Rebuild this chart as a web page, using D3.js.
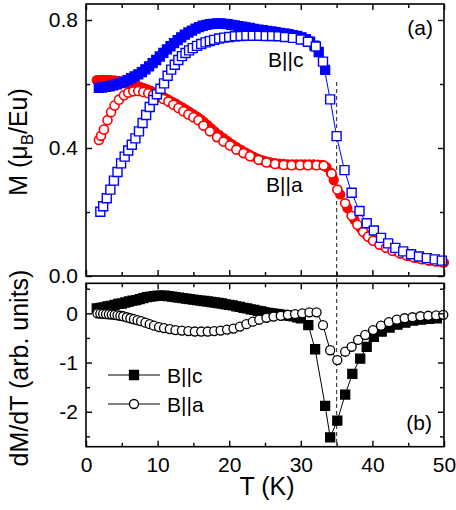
<!DOCTYPE html>
<html>
<head>
<meta charset="utf-8">
<script src="https://cdn.jsdelivr.net/npm/d3@7"></script>
<style>
  html, body { margin: 0; padding: 0; background: #fff; }
  svg { display: block; }
  text { font-family: "Liberation Sans", Arial, sans-serif; fill: #000; }
</style>
</head>
<body>
<svg id="chart" width="456" height="510"></svg>
<script>
// ---- Magnetization, B || c (field-cooled, filled squares) ----
const fcC_T = [1.8, 2.3, 2.8, 3.3, 3.8, 4.3, 4.8, 5.3, 5.8, 6.3, 6.8, 7.3, 7.8, 8.3, 8.8, 9.3, 9.8, 10.3, 10.8, 11.3,
  11.8, 12.3, 12.8, 13.3, 13.8, 14.3, 14.8, 15.3, 15.8, 16.3, 16.8, 17.3, 17.8, 18.3, 18.8, 19.3, 19.8, 20.3, 20.8,
  21.3, 21.8, 22.3, 22.9, 23.5, 24.1, 24.7, 25.3, 25.9, 26.5, 27.1, 27.7, 28.3, 28.9, 29.5, 30.1, 30.7, 31.3, 31.9,
  32.5, 33.4];
const fcC_M = [0.588, 0.589, 0.591, 0.593, 0.596, 0.599, 0.603, 0.607, 0.612, 0.618, 0.624, 0.630, 0.637, 0.646,
  0.655, 0.665, 0.675, 0.686, 0.697, 0.708, 0.718, 0.728, 0.737, 0.746, 0.754, 0.761, 0.767, 0.773, 0.778, 0.782,
  0.785, 0.787, 0.788, 0.789, 0.789, 0.788, 0.787, 0.785, 0.783, 0.781, 0.779, 0.777, 0.775, 0.772, 0.770, 0.768,
  0.766, 0.764, 0.762, 0.760, 0.758, 0.756, 0.753, 0.750, 0.746, 0.740, 0.732, 0.720, 0.700, 0.644];

// ---- Magnetization, B || c (zero-field-cooled, open squares) ----
const zfcC_T = [2.0, 2.4, 2.9, 3.4, 3.9, 4.4, 4.9, 5.4, 5.9, 6.4, 6.9, 7.4, 7.9, 8.4, 8.9, 9.4, 9.9, 10.4, 10.9, 11.4,
  11.9, 12.4, 12.9, 13.4, 13.9, 14.4, 14.9, 15.5, 16.1, 16.7, 17.3, 17.9, 18.6, 19.3, 20.0, 20.8, 21.6, 22.4, 23.3,
  24.2, 25.1, 26.0, 26.9, 27.8, 28.9, 30.0, 31.0, 32.1, 33.1, 34.1, 35.0, 36.1, 37.1, 38.2, 39.2, 40.2, 41.2, 42.2,
  43.2, 44.3, 45.4, 46.5, 47.6, 48.7, 49.7];
const zfcC_M = [0.201, 0.218, 0.243, 0.270, 0.298, 0.325, 0.352, 0.373, 0.392, 0.410, 0.430, 0.452, 0.478, 0.503,
  0.528, 0.550, 0.568, 0.585, 0.602, 0.626, 0.645, 0.660, 0.675, 0.687, 0.697, 0.705, 0.712, 0.719, 0.725, 0.730,
  0.734, 0.738, 0.742, 0.745, 0.747, 0.749, 0.750, 0.751, 0.751, 0.751, 0.750, 0.750, 0.749, 0.747, 0.744, 0.739,
  0.732, 0.717, 0.670, 0.552, 0.437, 0.331, 0.260, 0.203, 0.165, 0.142, 0.119, 0.102, 0.088, 0.077, 0.068, 0.061,
  0.056, 0.052, 0.048];

// ---- Magnetization, B || a (field-cooled, filled circles) ----
const fcA_T = [1.5, 2.0, 2.5, 3.0, 3.5, 4.0, 4.5, 5.0, 5.5, 6.0, 6.5, 7.0, 7.5, 8.0, 8.5, 9.0, 9.5, 10.0, 10.5, 11.0,
  11.5, 12.0, 12.5, 13.0, 13.5, 14.0, 14.5, 15.0, 15.5, 16.0, 16.5, 17.0, 17.5, 18.0, 18.6, 19.2, 19.8, 20.4, 21.0,
  21.6, 22.2, 22.8, 23.4, 24.0, 24.6, 25.2, 25.8, 26.4, 27.0, 27.6, 28.2, 28.8, 29.4, 30.0, 30.6, 31.2, 31.8, 32.4,
  33.0, 33.6, 34.2, 34.6, 35.5, 36.5, 37.5, 38.4, 39.2, 40.0, 41.0, 42.0, 43.0, 44.0, 45.0, 46.0, 47.0, 48.0, 49.0,
  50.0];
const fcA_M = [0.612, 0.613, 0.613, 0.613, 0.612, 0.611, 0.609, 0.607, 0.604, 0.601, 0.598, 0.595, 0.592, 0.588,
  0.584, 0.579, 0.574, 0.569, 0.563, 0.557, 0.551, 0.545, 0.539, 0.532, 0.526, 0.519, 0.512, 0.505, 0.498, 0.490,
  0.481, 0.471, 0.461, 0.451, 0.441, 0.431, 0.421, 0.412, 0.403, 0.395, 0.387, 0.380, 0.373, 0.367, 0.362, 0.358,
  0.355, 0.353, 0.351, 0.350, 0.349, 0.349, 0.349, 0.349, 0.349, 0.349, 0.349, 0.348, 0.347, 0.340, 0.322, 0.300,
  0.255, 0.212, 0.175, 0.148, 0.128, 0.113, 0.099, 0.088, 0.078, 0.070, 0.063, 0.057, 0.052, 0.048, 0.045, 0.042];

// ---- Magnetization, B || a (zero-field-cooled, open circles) ----
const zfcA_T = [1.8, 2.1, 2.5, 3.0, 3.5, 4.0, 4.6, 5.3, 5.9, 6.6, 7.3, 8.0, 8.7, 9.4, 10.1, 10.8, 11.5, 12.2, 12.9,
  13.6, 14.3, 15.0, 15.7, 16.4, 17.3, 18.3, 19.2, 20.1, 21.0, 22.0, 22.9, 24.1, 25.2, 26.4, 27.6, 28.7, 29.9, 31.0,
  32.2, 33.2, 34.3, 35.1, 36.2, 37.1, 37.9, 38.7, 39.4, 40.1, 41.0, 41.9, 42.8, 43.8, 44.8, 45.8, 46.8, 47.8, 48.8,
  49.8];
const zfcA_M = [0.425, 0.438, 0.458, 0.487, 0.512, 0.533, 0.551, 0.565, 0.573, 0.577, 0.578, 0.575, 0.571, 0.566,
  0.560, 0.553, 0.545, 0.535, 0.525, 0.515, 0.505, 0.496, 0.487, 0.470, 0.452, 0.434, 0.420, 0.408, 0.395, 0.384,
  0.374, 0.363, 0.355, 0.350, 0.347, 0.346, 0.346, 0.346, 0.346, 0.345, 0.320, 0.270, 0.227, 0.188, 0.160, 0.138,
  0.123, 0.110, 0.098, 0.088, 0.079, 0.071, 0.064, 0.058, 0.053, 0.049, 0.046, 0.043];

// ---- dM/dT, B || c (filled squares) ----
const dC_T = [1.5, 2.0, 2.5, 3.0, 3.5, 4.0, 4.5, 5.0, 5.5, 6.0, 6.5, 7.0, 7.5, 8.0, 8.5, 9.0, 9.5, 10.0, 10.5, 11.0,
  11.5, 12.0, 12.5, 13.0, 13.5, 14.0, 14.5, 15.0, 15.5, 16.0, 16.5, 17.0, 17.5, 18.0, 18.5, 19.0, 19.5, 20.0, 20.5,
  21.0, 21.5, 22.0, 22.5, 23.0, 23.5, 24.0, 24.5, 25.0, 25.5, 26.0, 26.5, 27.0, 27.5, 28.0, 28.5, 29.0, 29.5, 30.0,
  31.05, 32.0, 33.4, 34.1, 35.1, 36.2, 37.2, 38.3, 39.2, 40.2, 41.3, 42.4, 43.5, 44.6, 45.7, 46.8, 47.9, 49.0];
const dC_V = [0.10, 0.11, 0.12, 0.14, 0.15, 0.17, 0.19, 0.20, 0.22, 0.24, 0.26, 0.27, 0.29, 0.31, 0.33, 0.34, 0.35,
  0.36, 0.36, 0.36, 0.35, 0.34, 0.33, 0.32, 0.31, 0.30, 0.29, 0.28, 0.27, 0.26, 0.25, 0.24, 0.23, 0.22, 0.21, 0.20,
  0.18, 0.17, 0.16, 0.14, 0.13, 0.11, 0.10, 0.08, 0.07, 0.05, 0.04, 0.02, 0.01, 0.00, -0.01, -0.02, -0.03, -0.04,
  -0.05, -0.06, -0.08, -0.10, -0.24, -0.73, -1.88, -2.52, -2.18, -1.65, -1.23, -0.92, -0.68, -0.48, -0.37, -0.29,
  -0.23, -0.19, -0.15, -0.13, -0.11, -0.10];

// ---- dM/dT, B || a (open circles) ----
const dA_T = [1.6, 2.0, 2.4, 2.8, 3.2, 3.6, 4.0, 4.4, 4.8, 5.2, 5.7, 6.2, 6.7, 7.2, 7.7, 8.3, 8.9, 9.5, 10.2, 10.9,
  11.7, 12.5, 13.4, 14.3, 15.2, 16.1, 17.0, 17.9, 18.8, 19.7, 20.6, 21.5, 22.4, 23.3, 24.2, 25.2, 26.2, 27.2, 28.2,
  29.2, 30.2, 31.2, 32.2, 33.1, 34.1, 35.1, 36.2, 37.1, 38.0, 39.0, 40.1, 41.2, 42.3, 43.4, 44.5, 45.6, 46.7, 47.8,
  48.9, 49.9];
const dA_V = [0.00, -0.005, -0.01, -0.015, -0.02, -0.025, -0.03, -0.04, -0.05, -0.06, -0.08, -0.10, -0.12, -0.14,
  -0.16, -0.19, -0.22, -0.25, -0.28, -0.30, -0.32, -0.34, -0.35, -0.36, -0.37, -0.37, -0.37, -0.36, -0.35, -0.33,
  -0.31, -0.27, -0.22, -0.17, -0.13, -0.09, -0.065, -0.05, -0.03, -0.015, 0.00, 0.02, 0.02, -0.24, -0.75, -0.95,
  -0.78, -0.68, -0.54, -0.44, -0.34, -0.25, -0.18, -0.13, -0.10, -0.08, -0.06, -0.05, -0.04, -0.03];

// ---- Axis ticks ----
const xMajor = [0, 10, 20, 30, 40, 50];
const xMinor = [5, 15, 25, 35, 45];
const topMajor = [0, 0.4, 0.8];
const topMinor = [0.2, 0.6];
const topLabels = ["0.0", "0.4", "0.8"];
const botMajor = [-2, -1, 0];
const botMinor = [-2.5, -1.5, -0.5, 0.5];
const botLabels = ["-2", "-1", "0"];
const T_TRANSITION = 35;

const zip = (ts, vs) => ts.map((t, i) => ({ t, v: vs[i] }));

const svg = d3.select("#chart");
svg.append("rect").attr("width", 456).attr("height", 510).attr("fill", "#fff");

const L = 86, R = 444;
const x = d3.scaleLinear().domain([0, 50]).range([L, R]);
const yTop = d3.scaleLinear().domain([0, 0.85]).range([276, 4]);
const yBot = d3.scaleLinear().domain([-2.71, 0.61]).range([446.7, 283.3]);

const MAJ = 6, MIN = 4;
const TICK_FONT = 21;

function drawAxes(y, major, minor, labels, showX) {
  const [y0, y1] = y.range(); // bottom, top
  const g = svg.append("g");
  const style = sel => {
    sel.select(".domain").remove();
    sel.selectAll("line").attr("stroke", "#000").attr("stroke-width", 1.4);
    sel.selectAll("text").attr("font-size", TICK_FONT).attr("font-family", "Liberation Sans, Arial, sans-serif");
  };
  // bottom edge
  g.append("g").attr("transform", `translate(0,${y0})`)
    .call(d3.axisBottom(x).tickValues(xMajor).tickSize(-MAJ).tickPadding(10)
      .tickFormat(showX ? d3.format("d") : () => "")).call(style);
  g.append("g").attr("transform", `translate(0,${y0})`)
    .call(d3.axisBottom(x).tickValues(xMinor).tickSize(-MIN).tickFormat(() => "")).call(style);
  // top edge
  g.append("g").attr("transform", `translate(0,${y1})`)
    .call(d3.axisTop(x).tickValues(xMajor).tickSize(-MAJ).tickFormat(() => "")).call(style);
  g.append("g").attr("transform", `translate(0,${y1})`)
    .call(d3.axisTop(x).tickValues(xMinor).tickSize(-MIN).tickFormat(() => "")).call(style);
  // left edge
  g.append("g").attr("transform", `translate(${L},0)`)
    .call(d3.axisLeft(y).tickValues(major).tickSize(-MAJ).tickPadding(8)
      .tickFormat((d, i) => labels[i])).call(style);
  g.append("g").attr("transform", `translate(${L},0)`)
    .call(d3.axisLeft(y).tickValues(minor).tickSize(-MIN).tickFormat(() => "")).call(style);
  // right edge
  g.append("g").attr("transform", `translate(${R},0)`)
    .call(d3.axisRight(y).tickValues(major).tickSize(-MAJ).tickFormat(() => "")).call(style);
  g.append("g").attr("transform", `translate(${R},0)`)
    .call(d3.axisRight(y).tickValues(minor).tickSize(-MIN).tickFormat(() => "")).call(style);
  // frame
  g.append("rect").attr("x", L).attr("y", y1).attr("width", R - L).attr("height", y0 - y1)
    .attr("fill", "none").attr("stroke", "#000").attr("stroke-width", 1.6);
}

const sqr = d3.symbol().type(d3.symbolSquare).size(81)();
const circ = d3.symbol().type(d3.symbolCircle).size(64)();

function series(y, data, opt) {
  const g = svg.append("g");
  const line = d3.line().x(d => x(d.t)).y(d => y(d.v));
  g.append("path").attr("d", line(data)).attr("fill", "none")
    .attr("stroke", opt.color).attr("stroke-width", 1);
  g.selectAll("path.m").data(data).join("path").attr("class", "m")
    .attr("d", opt.shape === "square" ? sqr : circ)
    .attr("transform", d => `translate(${x(d.t)},${y(d.v)})`)
    .attr("fill", opt.filled ? opt.color : "#fff")
    .attr("stroke", opt.color).attr("stroke-width", opt.sw || 1.3);
}

// ---- Panel (a): magnetization ----
svg.append("line")
  .attr("x1", x(T_TRANSITION)).attr("x2", x(T_TRANSITION))
  .attr("y1", 82).attr("y2", yBot.range()[0])
  .attr("stroke", "#444").attr("stroke-width", 1.2).attr("stroke-dasharray", "4,3");

series(yTop, zip(fcA_T, fcA_M), { shape: "circle", filled: true, color: "#ff0000" });
series(yTop, zip(fcC_T, fcC_M), { shape: "square", filled: true, color: "#0000ff" });
series(yTop, zip(zfcA_T, zfcA_M), { shape: "circle", filled: false, color: "#ff0000", sw: 1.6 });
series(yTop, zip(zfcC_T, zfcC_M), { shape: "square", filled: false, color: "#0000ff", sw: 1.4 });
drawAxes(yTop, topMajor, topMinor, topLabels, false);

svg.append("text").attr("x", 433).attr("y", 35).attr("text-anchor", "end").attr("font-size", 21).text("(a)");
svg.append("text").attr("x", 268).attr("y", 67).attr("font-size", 21).text("B||c");
svg.append("text").attr("x", 266).attr("y", 192).attr("font-size", 21).text("B||a");

// ---- Panel (b): derivative ----
series(yBot, zip(dC_T, dC_V), { shape: "square", filled: true, color: "#000" });
series(yBot, zip(dA_T, dA_V), { shape: "circle", filled: false, color: "#000" });
drawAxes(yBot, botMajor, botMinor, botLabels, true);

svg.append("text").attr("x", 432).attr("y", 430).attr("text-anchor", "end").attr("font-size", 21).text("(b)");

// legend
const legend = [
  { label: "B||c", shape: "square", filled: true, yy: 375 },
  { label: "B||a", shape: "circle", filled: false, yy: 404 }
];
const lg = svg.append("g");
legend.forEach(d => {
  lg.append("line").attr("x1", 108).attr("x2", 160).attr("y1", d.yy).attr("y2", d.yy)
    .attr("stroke", "#000").attr("stroke-width", 1);
  lg.append("path").attr("d", d.shape === "square" ? sqr : circ)
    .attr("transform", `translate(134,${d.yy})`)
    .attr("fill", d.filled ? "#000" : "#fff").attr("stroke", "#000").attr("stroke-width", 1.3);
  lg.append("text").attr("x", 167).attr("y", d.yy + 7.5).attr("font-size", 21).text(d.label);
});

// ---- Axis titles ----
svg.append("text").attr("x", (L + R) / 2 + 2).attr("y", 495).attr("text-anchor", "middle")
  .attr("font-size", 25).text("T (K)");

const my = svg.append("text").attr("transform", "translate(27,142) rotate(-90)")
  .attr("text-anchor", "middle").attr("font-size", 25);
my.append("tspan").text("M (\u03bc");
my.append("tspan").attr("font-size", 17).attr("dy", 6).text("B");
my.append("tspan").attr("dy", -6).text("/Eu)");

svg.append("text").attr("transform", "translate(28,368) rotate(-90)")
  .attr("text-anchor", "middle").attr("font-size", 25).text("dM/dT (arb. units)");
</script>
</body>
</html>
